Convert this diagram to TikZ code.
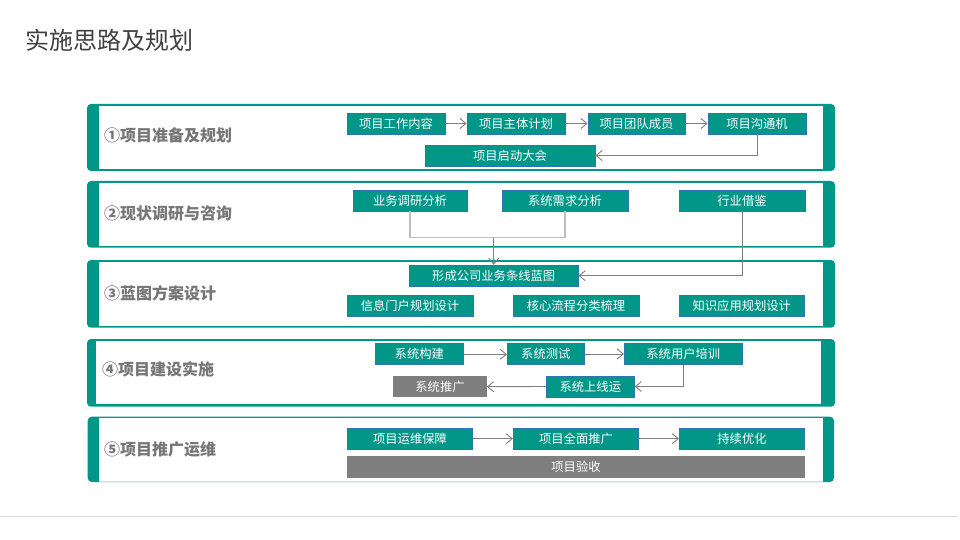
\documentclass[tikz,border=0pt]{standalone}
\usepackage{fontspec}
\setmainfont{Noto Sans CJK SC}
\usetikzlibrary{arrows.meta}
\definecolor{tealc}{RGB}{0,150,136}
\definecolor{mintc}{RGB}{190,232,226}
\definecolor{boxblue}{RGB}{46,117,182}
\definecolor{arrowgray}{RGB}{128,128,128}
\definecolor{lightline}{RGB}{190,190,190}
\definecolor{labelgray}{RGB}{118,118,118}
\definecolor{titlegray}{RGB}{64,64,64}
\definecolor{grayfill}{RGB}{127,127,127}
\tikzset{
  box/.style={draw=boxblue, fill=tealc, text=white, line width=0.8pt, inner sep=0pt,
    minimum height=21pt, font=\fontsize{12.3}{12.3}\selectfont},
  graybox/.style={fill=grayfill, text=white, inner sep=0pt, minimum height=21.5pt,
    font=\fontsize{12.3}{12.3}\selectfont},
  plabel/.style={anchor=west, text=labelgray, inner sep=0pt, font=\fontsize{16}{16}\selectfont\bfseries},
  conn/.style={draw=arrowgray, line width=0.9pt, -{Straight Barb[length=6pt,width=10pt,line width=0.9pt]}},
  bracket/.style={draw=lightline, line width=1.3pt},
}
\begin{document}
\begin{tikzpicture}[x=1pt,y=-1pt]
\useasboundingbox (0,0) rectangle (960,540);
% title
\node[anchor=west, text=titlegray, inner sep=0pt, font=\fontsize{24}{24}\selectfont] (title) at (25,40) {实施思路及规划};
% bottom rule
\draw[draw=black!15, line width=1pt] (0,516) -- (958,516);
% panels
\fill[tealc, rounded corners=4pt] (87,104) rectangle (835,171);
\fill[white] (99,106) rectangle (822.7,169);
\fill[tealc, rounded corners=4pt] (87,181) rectangle (835,247.7);
\fill[white] (99,182.7) rectangle (822.7,245.7);
\fill[tealc, rounded corners=4pt] (87,260) rectangle (835,327.7);
\fill[white] (99,262) rectangle (822.7,326);
\fill[tealc, rounded corners=4pt] (87,339) rectangle (835,406.7);
\fill[white] (96,340.7) rectangle (820.7,404);
\fill[tealc, rounded corners=4pt] (87.7,416.7) rectangle (834,482);
\fill[white] (99,417.6) rectangle (822.7,481);
\draw[mintc, line width=1pt] (99,481.5) -- (822.7,481.5);
% labels
\node[plabel] (l1) at (104,135) {①项目准备及规划};
\node[plabel] (l2) at (104,213) {②现状调研与咨询};
\node[plabel] (l3) at (104,293) {③蓝图方案设计};
\node[plabel] (l4) at (102,369) {④项目建设实施};
\node[plabel] (l5) at (104,449) {⑤项目推广运维};
% panel 1
\node[box, minimum width=98pt] (a1) at (396,123.5) {项目工作内容};
\node[box, minimum width=98pt] (a2) at (516,123.5) {项目主体计划};
\node[box, minimum width=97pt] (a3) at (636.5,123.5) {项目团队成员};
\node[box, minimum width=98pt] (a4) at (757,123.5) {项目沟通机};
\node[box, minimum width=170pt] (a5) at (510,155.5) {项目启动大会};
\draw[conn] (a1) -- (a2);
\draw[conn] (a2) -- (a3);
\draw[conn] (a3) -- (a4);
\draw[conn] (a4.south) |- (a5.east);
% panel 2
\node[box, minimum width=114pt] (b1) at (410,200.5) {业务调研分析};
\node[box, minimum width=126pt] (b2) at (565,200.5) {系统需求分析};
\node[box, minimum width=126pt] (b3) at (742,200.5) {行业借鉴};
% panel 3
\node[box, minimum width=169pt] (c1) at (493.7,275.7) {形成公司业务条线蓝图};
\node[box, minimum width=126pt] (c2) at (410,305.8) {信息门户规划设计};
\node[box, minimum width=126pt] (c3) at (576,305.8) {核心流程分类梳理};
\node[box, minimum width=125pt] (c4) at (741.8,305.8) {知识应用规划设计};
\coordinate (bj) at (493.7,237.7);
\draw[bracket] (b1.south) |- (bj) -| (b2.south);
\draw[conn] (bj) -- (c1.north);
\draw[conn] (b3.south) |- (c1.east);
% panel 4
\node[box, minimum width=88pt] (d1) at (419.3,354.3) {系统构建};
\node[box, minimum width=77pt] (d2) at (545.8,354) {系统测试};
\node[box, minimum width=118pt] (d3) at (683.3,354) {系统用户培训};
\node[box, minimum width=88pt] (d4) at (590.3,386.5) {系统上线运};
\node[graybox, minimum width=93.4pt] (d5) at (440,386.7) {系统推广};
\draw[conn] (d1.east) -- (d2.west |- d1.east);
\draw[conn] (d2) -- (d3);
\draw[conn] (d3.south) |- (d4.east);
\draw[conn] (d4.west) -- (d5.east);
% panel 5
\node[box, minimum width=125.4pt] (e1) at (410,438.7) {项目运维保障};
\node[box, minimum width=125.4pt] (e2) at (576,438.7) {项目全面推广};
\node[box, minimum width=125.4pt] (e3) at (742,438.7) {持续优化};
\node[graybox, minimum width=457.4pt] (e4) at (576,466.8) {项目验收};
\draw[conn] (e1) -- (e2);
\draw[conn] (e2) -- (e3);
\end{tikzpicture}
\end{document}
